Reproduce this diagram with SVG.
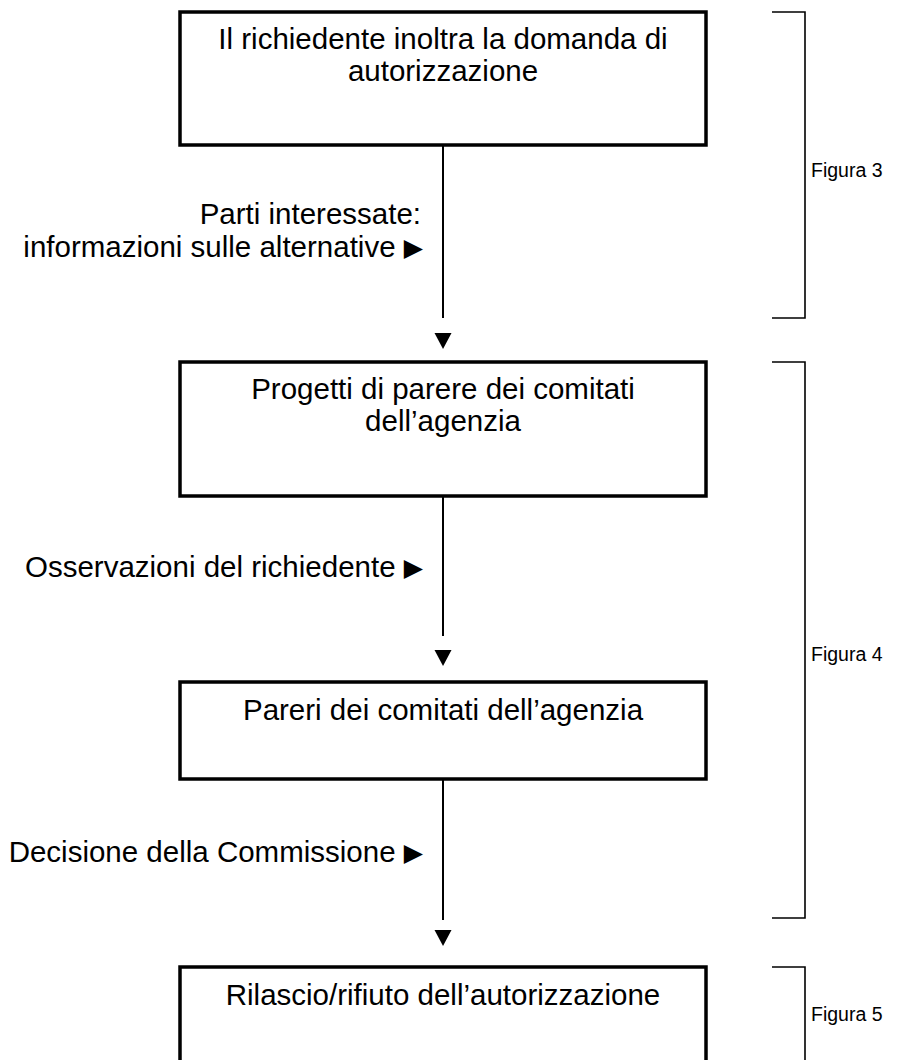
<svg xmlns="http://www.w3.org/2000/svg" width="912" height="1060" viewBox="0 0 912 1060">
<style>
.box{fill:#fff;stroke:#000;stroke-width:3.5}
.t{font-family:"Liberation Sans","DejaVu Sans",sans-serif;font-size:29.5px;fill:#000;text-anchor:middle}
.l{font-family:"Liberation Sans","DejaVu Sans",sans-serif;font-size:29.5px;fill:#000;text-anchor:end}
.tri{font-family:"DejaVu Sans",sans-serif;font-size:25px}
.f{font-family:"Liberation Sans",sans-serif;font-size:19.5px;fill:#000}
.ln{stroke:#000;stroke-width:2;fill:none}
.br{stroke:#000;stroke-width:1.6;fill:none}
.ah{fill:#000}
</style>
<rect width="912" height="1060" fill="#fff"/>
<g id="connectors">
<line class="ln" x1="443" y1="145" x2="443" y2="318"/>
<polygon class="ah" points="434.5,333 451.5,333 443,349"/>
<line class="ln" x1="443" y1="496" x2="443" y2="636"/>
<polygon class="ah" points="434.5,650 451.5,650 443,666"/>
<line class="ln" x1="443" y1="779" x2="443" y2="920"/>
<polygon class="ah" points="434.5,930 451.5,930 443,946"/>
</g>
<g id="node1">
<rect class="box" x="180" y="12" width="526" height="133"/>
<text class="t" x="443" y="49">Il richiedente inoltra la domanda di</text>
<text class="t" x="443" y="81">autorizzazione</text>
</g>
<g id="label1">
<text class="l" x="421" y="224">Parti interessate:</text>
<text class="l" x="423" y="257">informazioni sulle alternative <tspan class="tri" dy="-1">▶</tspan></text>
</g>
<g id="node2">
<rect class="box" x="180" y="362" width="526" height="134"/>
<text class="t" x="443" y="399">Progetti di parere dei comitati</text>
<text class="t" x="443" y="431">dell’agenzia</text>
</g>
<g id="label2">
<text class="l" x="423" y="577">Osservazioni del richiedente <tspan class="tri" dy="-1">▶</tspan></text>
</g>
<g id="node3">
<rect class="box" x="180" y="682" width="526" height="97"/>
<text class="t" x="443" y="720">Pareri dei comitati dell’agenzia</text>
</g>
<g id="label3">
<text class="l" x="423" y="862">Decisione della Commissione <tspan class="tri" dy="-1">▶</tspan></text>
</g>
<g id="node4">
<rect class="box" x="180" y="967" width="526" height="130"/>
<text class="t" x="443" y="1005">Rilascio/rifiuto dell’autorizzazione</text>
</g>
<g id="bracket3">
<polyline class="br" points="772,12 805,12 805,318 772,318"/>
<text class="f" x="811" y="177">Figura 3</text>
</g>
<g id="bracket4">
<polyline class="br" points="772,362 805,362 805,918 772,918"/>
<text class="f" x="811" y="661">Figura 4</text>
</g>
<g id="bracket5">
<polyline class="br" points="772,967 805,967 805,1070"/>
<text class="f" x="811" y="1021">Figura 5</text>
</g>
</svg>
